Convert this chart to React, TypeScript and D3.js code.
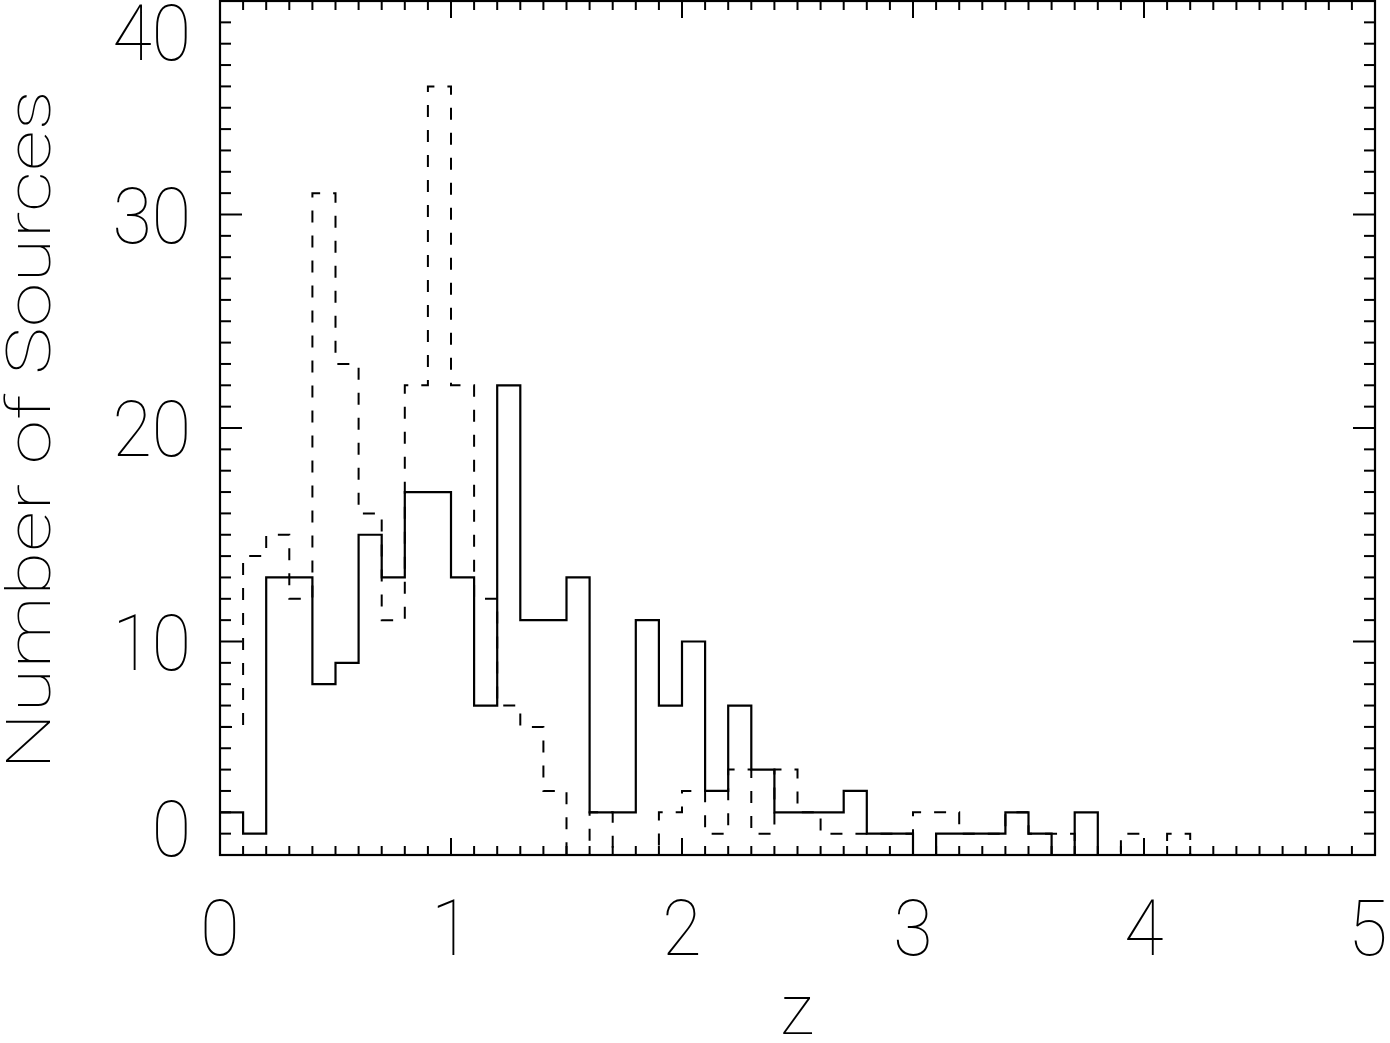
import React from 'react';
import * as d3 from 'd3';

// Bin left edges (z), width 0.1
const binEdges = [
  0.0, 0.1, 0.2, 0.3, 0.4, 0.5, 0.6, 0.7, 0.8, 0.9,
  1.0, 1.1, 1.2, 1.3, 1.4, 1.5, 1.6, 1.7, 1.8, 1.9,
  2.0, 2.1, 2.2, 2.3, 2.4, 2.5, 2.6, 2.7, 2.8, 2.9,
  3.0, 3.1, 3.2, 3.3, 3.4, 3.5, 3.6, 3.7, 3.8, 3.9,
  4.0, 4.1, 4.2, 4.3,
];
const binWidth = 0.1;

// Solid histogram counts
const solidCounts = [
  2, 1, 13, 13, 8, 9, 15, 13, 17, 17,
  13, 7, 22, 11, 11, 13, 2, 2, 11, 7,
  10, 3, 7, 4, 2, 2, 2, 3, 1, 1,
  0, 1, 1, 1, 2, 1, 0, 2, 0,
];

// Dashed histogram counts
const dashedCounts = [
  6, 14, 15, 12, 31, 23, 16, 11, 22, 36,
  22, 12, 7, 6, 3, 0, 2, 0, 0, 2,
  3, 1, 4, 1, 4, 2, 1, 1, 1, 1,
  2, 2, 1, 1, 2, 1, 1, 0, 0, 1,
  0, 1, 0,
];

const xTickValues = [0, 1, 2, 3, 4, 5];
const xTickLabels = ['0', '1', '2', '3', '4', '5'];
const yTickValues = [0, 10, 20, 30, 40];
const yTickLabels = ['0', '10', '20', '30', '40'];

const W = 1390;
const H = 1043;
const left = 220;
const right = 1375;
const top = 1;
const bottom = 855;

const FONT = 'Roboto, "DejaVu Sans", sans-serif';

export default function App() {
  const x = d3.scaleLinear().domain([0, 5]).range([left, right]);
  const y = d3.scaleLinear().domain([0, 40]).range([bottom, top]);

  const stepPath = (counts: number[]) => {
    const pts: [number, number][] = counts.map((c, i) => [binEdges[i], c]);
    pts.push([binEdges[counts.length - 1] + binWidth, counts[counts.length - 1]]);
    return d3
      .line<[number, number]>()
      .x((d) => x(d[0]))
      .y((d) => y(d[1]))
      .curve(d3.curveStepAfter)(pts) as string;
  };

  const xMinor = d3.range(0, 51).map((i) => i / 10);
  const yMinor = d3.range(0, 41);

  const ticks: JSX.Element[] = [];
  xMinor.forEach((v, i) => {
    const major = i % 10 === 0;
    const len = major ? 17 : 9;
    const px = x(v);
    ticks.push(<line key={'xb' + i} x1={px} x2={px} y1={bottom} y2={bottom - len} />);
    ticks.push(<line key={'xt' + i} x1={px} x2={px} y1={top} y2={top + len} />);
  });
  yMinor.forEach((v, i) => {
    const major = i % 10 === 0;
    const len = major ? 22 : 11;
    const py = y(v);
    ticks.push(<line key={'yl' + i} x1={left} x2={left + len} y1={py} y2={py} />);
    ticks.push(<line key={'yr' + i} x1={right} x2={right - len} y1={py} y2={py} />);
  });

  // vertical centre of y tick labels, kept within the frame
  const yLabelCenter = (v: number) => Math.min(Math.max(y(v), 32), bottom - 27);
  // horizontal centre of x tick labels, kept within the page
  const xLabelCenter = (v: number) => Math.min(Math.max(x(v), 212), W - 22);

  return (
    <svg
      width={W}
      height={H}
      style={{ position: 'absolute', left: 0, top: 0, background: '#fff', display: 'block' }}
    >
      <rect x={0} y={0} width={W} height={H} fill="#fff" />
      <g stroke="#000" strokeWidth={2} fill="none">
        {ticks}
      </g>
      <path d={stepPath(dashedCounts)} fill="none" stroke="#000" strokeWidth={2} strokeDasharray="12 13" />
      <path d={stepPath(solidCounts)} fill="none" stroke="#000" strokeWidth={2.2} />
      <rect x={left} y={top} width={right - left} height={bottom - top} fill="none" stroke="#000" strokeWidth={2.2} />
      <g fontFamily={FONT} fontWeight={100} fontSize={78} fill="#000">
        {xTickValues.map((v, i) => (
          <text key={'xl' + i} transform={`translate(${xLabelCenter(v)},${955}) scale(0.92,1)`} textAnchor="middle">
            {xTickLabels[i]}
          </text>
        ))}
        {yTickValues.map((v, i) => (
          <text key={'yl' + i} transform={`translate(${191},${yLabelCenter(v) + 28}) scale(0.92,1)`} textAnchor="end">
            {yTickLabels[i]}
          </text>
        ))}
      </g>
      <text
        fontFamily={FONT}
        fontWeight={100}
        fontSize={62}
        textAnchor="middle"
        transform={`translate(50,430) rotate(-90)`}
        textLength={680}
        lengthAdjust="spacingAndGlyphs"
      >
        Number of Sources
      </text>
      <text fontFamily={FONT} fontWeight={100} fontSize={70} textAnchor="middle" x={797} y={1034}>
        z
      </text>
    </svg>
  );
}
